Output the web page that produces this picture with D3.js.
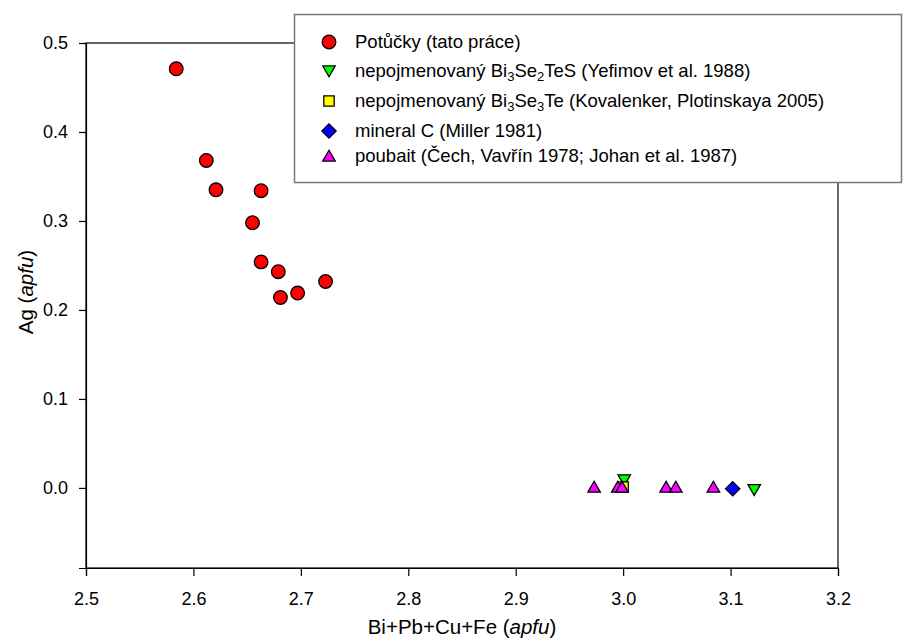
<!DOCTYPE html>
<html>
<head>
<meta charset="utf-8">
<script src="https://cdn.jsdelivr.net/npm/d3@7"></script>
<style>
  body { margin: 0; background: #fff; }
  svg { display: block; font-family: "Liberation Sans", Arial, sans-serif; }
</style>
</head>
<body>
<svg id="chart" width="904" height="641"></svg>
<script>
// Potůčky analyses (this work)
const potuckyX = [2.584, 2.612, 2.621, 2.663, 2.655, 2.663, 2.679, 2.681, 2.697, 2.723];
const potuckyY = [0.471, 0.368, 0.335, 0.334, 0.298, 0.254, 0.243, 0.214, 0.219, 0.232];
// unnamed Bi3Se2TeS (Yefimov et al. 1988)
const yefimovX = [3.001, 3.122];
const yefimovY = [0.009, -0.002];
// unnamed Bi3Se3Te (Kovalenker, Plotinskaya 2005)
const kovalenkerX = [3.0];
const kovalenkerY = [0.001];
// mineral C (Miller 1981)
const millerX = [3.102];
const millerY = [-0.001];
// poubaite (Čech, Vavřín 1978; Johan et al. 1987)
const poubaitX = [2.973, 2.995, 2.999, 3.040, 3.049, 3.084];
const poubaitY = [0.001, 0.001, 0.001, 0.001, 0.001, 0.001];

const xTicks = [2.5, 2.6, 2.7, 2.8, 2.9, 3.0, 3.1, 3.2];
const yTicks = [0.0, 0.1, 0.2, 0.3, 0.4, 0.5];

const svg = d3.select("#chart");
const plotL = 86, plotR = 838, plotT = 43, plotB = 568;

const x = d3.scaleLinear().domain([2.5, 3.2]).range([plotL, plotR]);
const y = d3.scaleLinear().domain([-0.09, 0.5]).range([plotB, plotT]);

// frame
svg.append("rect")
  .attr("x", plotL).attr("y", plotT)
  .attr("width", plotR - plotL).attr("height", plotB - plotT)
  .attr("fill", "none").attr("stroke", "#000").attr("stroke-width", 1.2);

const xAxis = svg.append("g")
  .attr("transform", `translate(0,${plotB})`)
  .call(d3.axisBottom(x).tickValues(xTicks).tickFormat(d3.format(".1f")).tickSize(8).tickPadding(16));
const yAxis = svg.append("g")
  .attr("transform", `translate(${plotL},0)`)
  .call(d3.axisLeft(y).tickValues(yTicks).tickFormat(d3.format(".1f")).tickSize(7).tickPadding(11));

[xAxis, yAxis].forEach(g => {
  g.select(".domain").attr("stroke", "#000").attr("stroke-width", 1.2);
  g.selectAll(".tick line").attr("stroke", "#000").attr("stroke-width", 1.2);
  g.selectAll(".tick text").attr("font-size", 18).attr("fill", "#000")
    .attr("font-family", "Liberation Sans, Arial, sans-serif");
});

// axis titles
const xt = svg.append("text")
  .attr("x", (plotL + plotR) / 2).attr("y", 634)
  .attr("text-anchor", "middle").attr("font-size", 20.5);
xt.append("tspan").text("Bi+Pb+Cu+Fe (");
xt.append("tspan").attr("font-style", "italic").text("apfu");
xt.append("tspan").text(")");

const yt = svg.append("text")
  .attr("transform", `translate(33,292) rotate(-90)`)
  .attr("text-anchor", "middle").attr("font-size", 20.5);
yt.append("tspan").text("Ag (");
yt.append("tspan").attr("font-style", "italic").text("apfu");
yt.append("tspan").text(")");

// marker shapes
const R = 6.8;
const shapes = {
  down: s => `M${-s * 0.92},${-s * 0.75}L${s * 0.92},${-s * 0.75}L0,${s * 0.85}Z`,
  up: s => `M${-s * 0.92},${s * 0.75}L${s * 0.92},${s * 0.75}L0,${-s * 0.85}Z`,
  square: s => `M${-s * 0.76},${-s * 0.76}H${s * 0.76}V${s * 0.76}H${-s * 0.76}Z`,
  diamond: s => `M0,${-s * 1.05}L${s * 1.05},0L0,${s * 1.05}L${-s * 1.05},0Z`
};

function drawMark(g, shape, cx, cy, fill) {
  if (shape === "circle") {
    g.append("circle").attr("cx", cx).attr("cy", cy).attr("r", R)
      .attr("fill", fill).attr("stroke", "#000").attr("stroke-width", 1.3);
  } else {
    g.append("path").attr("d", shapes[shape](R))
      .attr("transform", `translate(${cx},${cy})`)
      .attr("fill", fill).attr("stroke", "#000").attr("stroke-width", 1.3);
  }
}

const series = [
  { xs: potuckyX, ys: potuckyY, shape: "circle", fill: "#ff0000" },
  { xs: yefimovX, ys: yefimovY, shape: "down", fill: "#00ff00" },
  { xs: kovalenkerX, ys: kovalenkerY, shape: "square", fill: "#ffff00" },
  { xs: millerX, ys: millerY, shape: "diamond", fill: "#0000ff" },
  { xs: poubaitX, ys: poubaitY, shape: "up", fill: "#ff00ff" }
];

const marks = svg.append("g");
series.forEach(s => {
  s.xs.forEach((v, i) => drawMark(marks, s.shape, x(v), y(s.ys[i]), s.fill));
});

// legend
const lg = svg.append("g");
lg.append("rect").attr("x", 294.5).attr("y", 14.5).attr("width", 607).attr("height", 168)
  .attr("fill", "#fff").attr("stroke", "#777").attr("stroke-width", 1.5);

const legendRows = [
  { shape: "circle", fill: "#ff0000", y: 42, parts: [["Potůčky (tato práce)"]] },
  { shape: "down", fill: "#00ff00", y: 71, parts: [["nepojmenovaný Bi"], ["3", "sub"], ["Se"], ["2", "sub"], ["TeS (Yefimov et al. 1988)"]] },
  { shape: "square", fill: "#ffff00", y: 101, parts: [["nepojmenovaný Bi"], ["3", "sub"], ["Se"], ["3", "sub"], ["Te (Kovalenker, Plotinskaya 2005)"]] },
  { shape: "diamond", fill: "#0000ff", y: 131, parts: [["mineral C (Miller 1981)"]] },
  { shape: "up", fill: "#ff00ff", y: 156, parts: [["poubait (Čech, Vavřín 1978; Johan et al. 1987)"]] }
];

legendRows.forEach(r => {
  drawMark(lg, r.shape, 329, r.y, r.fill);
  const t = lg.append("text").attr("x", 355).attr("y", r.y + 6).attr("font-size", 18.5);
  let prevSub = false;
  r.parts.forEach(p => {
    const isSub = p[1] === "sub";
    const ts = t.append("tspan").text(p[0]);
    if (isSub) ts.attr("font-size", 13).attr("dy", prevSub ? 0 : 4);
    else ts.attr("dy", prevSub ? -4 : 0);
    prevSub = isSub;
  });
});
</script>
</body>
</html>
